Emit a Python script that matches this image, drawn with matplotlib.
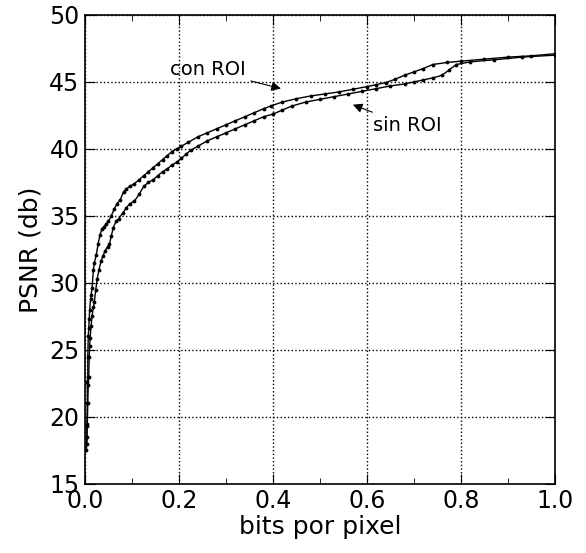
import matplotlib
matplotlib.use('Agg')
import matplotlib.pyplot as plt
from matplotlib.ticker import MultipleLocator, FormatStrFormatter

# PSNR vs bits per pixel
con_x = [0.003, 0.004, 0.004, 0.005, 0.005, 0.006, 0.006, 0.007, 0.008, 0.009,
         0.010, 0.012, 0.013, 0.015, 0.018, 0.020, 0.024, 0.028, 0.032, 0.036,
         0.040, 0.045, 0.050, 0.056, 0.062, 0.068, 0.075, 0.082, 0.088, 0.095,
         0.105, 0.115, 0.125, 0.135, 0.145, 0.155, 0.165, 0.175, 0.185, 0.195,
         0.205, 0.22, 0.24, 0.26, 0.28, 0.30, 0.32, 0.34, 0.36, 0.38,
         0.395, 0.42, 0.45, 0.48, 0.51, 0.54, 0.57, 0.60, 0.62, 0.64,
         0.66, 0.68, 0.70, 0.72, 0.74, 0.77, 0.80, 0.85, 0.90, 0.95, 1.0]
con_y = [17.5, 18.5, 19.3, 21.0, 22.6, 23.0, 24.5, 26.0, 26.6, 27.3,
         28.0, 28.8, 29.1, 29.6, 31.0, 31.5, 32.1, 32.9, 33.6, 34.0,
         34.2, 34.4, 34.6, 35.0, 35.5, 35.9, 36.2, 36.8, 37.0, 37.2,
         37.4, 37.7, 38.0, 38.3, 38.6, 38.9, 39.2, 39.5, 39.8, 40.0,
         40.2, 40.5, 40.9, 41.2, 41.5, 41.8, 42.1, 42.4, 42.7, 43.0,
         43.2, 43.5, 43.75, 43.95, 44.1, 44.25, 44.45, 44.65, 44.8, 44.95,
         45.2, 45.5, 45.75, 46.0, 46.3, 46.45, 46.55, 46.7, 46.85, 46.95, 47.1]

sin_x = [0.004, 0.005, 0.006, 0.007, 0.008, 0.009, 0.010, 0.011, 0.013, 0.015,
         0.018, 0.020, 0.023, 0.026, 0.030, 0.034, 0.038, 0.043, 0.048, 0.052,
         0.056, 0.060, 0.066, 0.072, 0.080, 0.088, 0.095, 0.105, 0.115, 0.125,
         0.135, 0.145, 0.155, 0.165, 0.175, 0.185, 0.195, 0.205, 0.215, 0.225,
         0.24, 0.26, 0.28, 0.30, 0.32, 0.34, 0.36, 0.38, 0.40, 0.42,
         0.44, 0.47, 0.50, 0.53, 0.56, 0.59, 0.62, 0.65, 0.68, 0.70,
         0.72, 0.74, 0.76, 0.775, 0.79, 0.82, 0.87, 0.93, 1.0]
sin_y = [18.0, 19.5, 21.0, 22.4, 23.0, 24.5, 25.3, 25.9, 26.8, 27.5,
         28.2, 28.6, 29.5, 30.3, 31.0, 31.6, 32.0, 32.4, 32.7, 32.9,
         33.5, 34.1, 34.6, 34.8, 35.2, 35.6, 35.9, 36.1, 36.6, 37.2,
         37.5, 37.7, 38.0, 38.3, 38.5, 38.8, 39.0, 39.3, 39.6, 39.9,
         40.2, 40.6, 40.9, 41.2, 41.5, 41.8, 42.1, 42.4, 42.6, 42.9,
         43.2, 43.5, 43.7, 43.9, 44.1, 44.3, 44.5, 44.7, 44.85, 45.0,
         45.15, 45.3, 45.5, 45.9, 46.3, 46.5, 46.65, 46.85, 47.0]

plt.rcParams['font.family'] = 'DejaVu Sans'
plt.rcParams['font.size'] = 16

fig = plt.figure(figsize=(5.86, 5.53), dpi=100)
ax = fig.add_axes([0.145, 0.125, 0.802, 0.848])

ax.plot(con_x, con_y, color='black', linestyle='-', linewidth=1.0,
        marker='.', markersize=3.5)
ax.plot(sin_x, sin_y, color='black', linestyle='-', linewidth=1.0,
        marker='.', markersize=3.5)

ax.annotate('con ROI', xy=(0.417, 44.5), xytext=(0.18, 45.9),
            fontsize=14, va='center', ha='left',
            arrowprops=dict(arrowstyle='-|>', color='black', lw=0.8,
                            mutation_scale=14, shrinkA=2, shrinkB=0))
ax.annotate('sin ROI', xy=(0.57, 43.3), xytext=(0.612, 41.75),
            fontsize=14, va='center', ha='left',
            arrowprops=dict(arrowstyle='-|>', color='black', lw=0.8,
                            mutation_scale=14, shrinkA=2, shrinkB=0))

ax.set_xlim(0.0, 1.0)
ax.set_ylim(15, 50)
ax.xaxis.set_major_locator(MultipleLocator(0.2))
ax.xaxis.set_minor_locator(MultipleLocator(0.1))
ax.yaxis.set_major_locator(MultipleLocator(5))
ax.xaxis.set_major_formatter(FormatStrFormatter('%.1f'))

ax.grid(True, which='major', color='black', linestyle=':', linewidth=1.0)
ax.tick_params(which='both', direction='in', top=True, right=True, labelsize=17, pad=4)
ax.tick_params(which='major', length=7)
ax.tick_params(which='minor', length=4)
for s in ax.spines.values():
    s.set_linewidth(1.2)

ax.set_xlabel('bits por pixel', fontsize=18, labelpad=1)
ax.set_ylabel('PSNR (db)', fontsize=18, labelpad=5)

fig.savefig('out.png', dpi=100)
